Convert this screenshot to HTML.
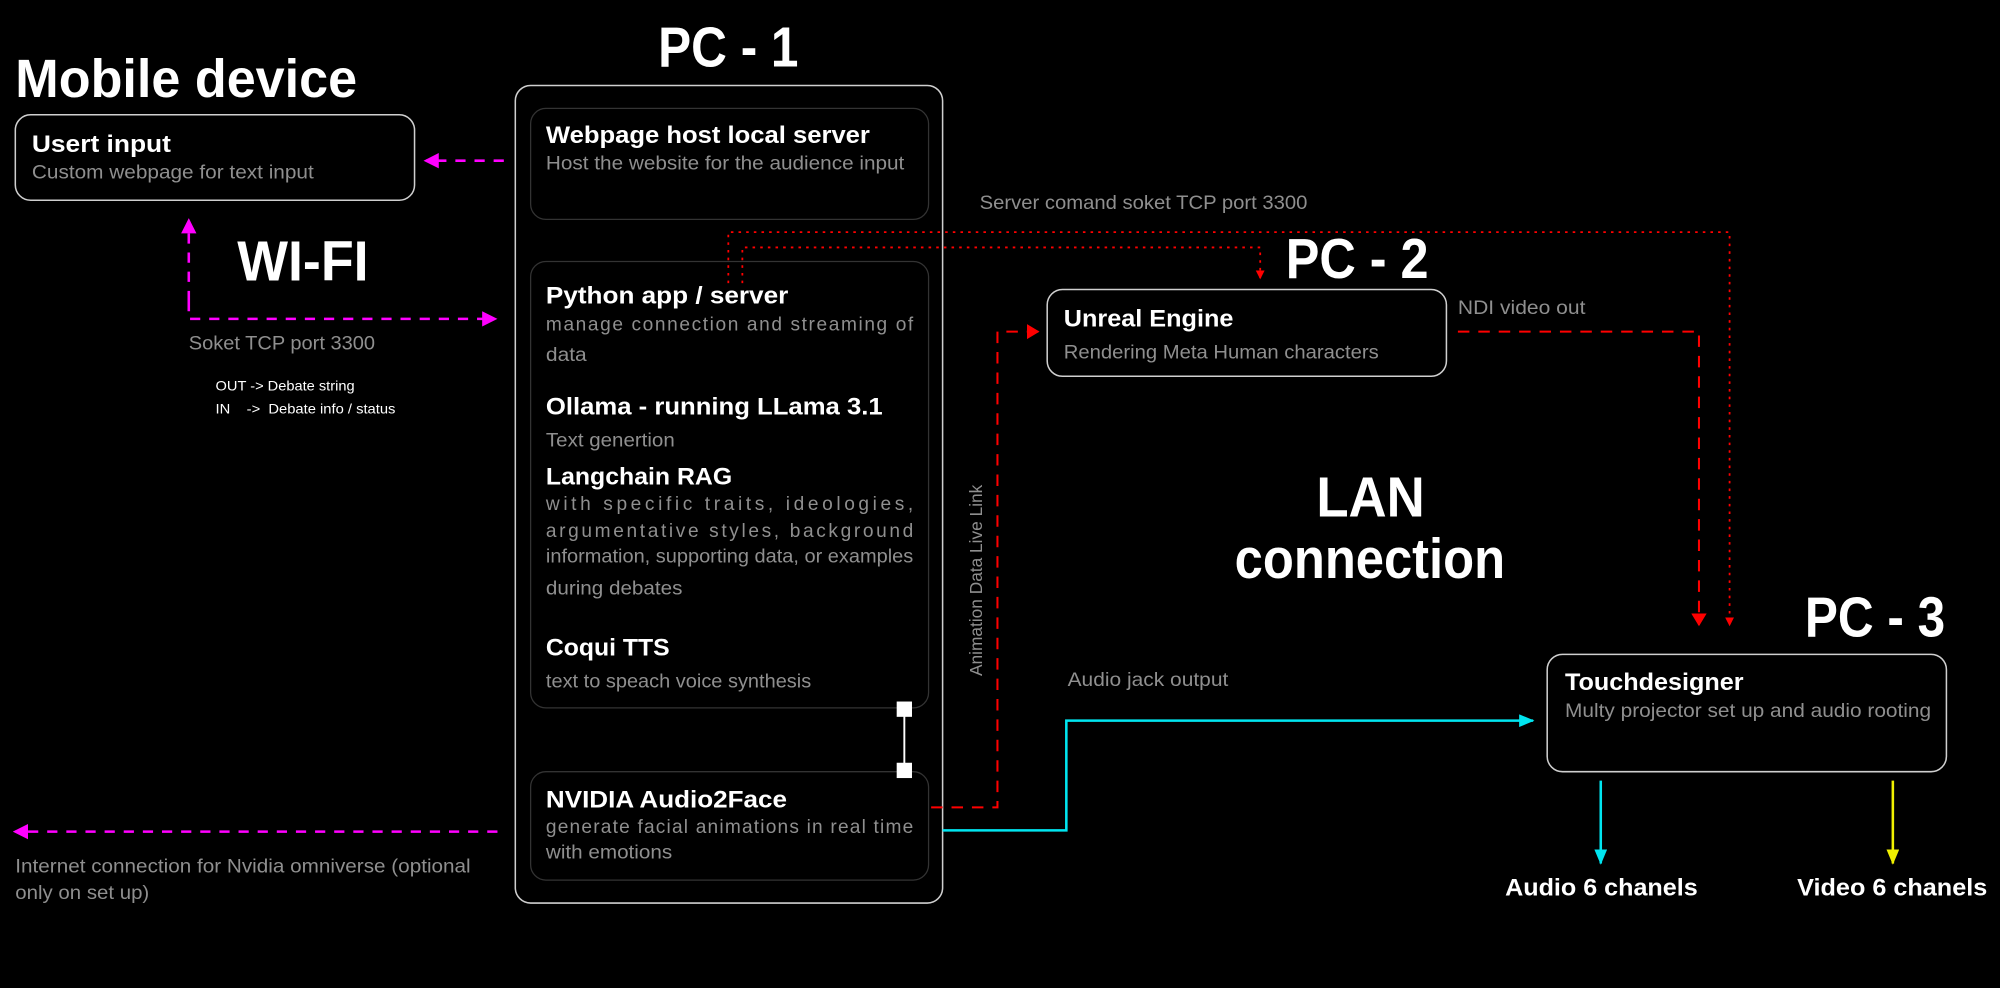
<!DOCTYPE html>
<html><head><meta charset="utf-8"><style>
html,body{margin:0;padding:0;background:#000;}
svg{display:block;}
.b{font-family:"Liberation Sans",sans-serif;font-weight:bold;fill:#fff;}
.l{font-family:"Liberation Sans",sans-serif;fill:#8f8f8f;}
</style></head><body>
<svg width="2000" height="988" viewBox="0 0 1568 774.6" xmlns="http://www.w3.org/2000/svg">
<rect x="0" y="0" width="1568" height="775" fill="#000"/>
<defs>
<marker id="am" markerWidth="12" markerHeight="12" refX="10" refY="6" orient="auto" markerUnits="userSpaceOnUse"><path d="M0,0 L12,6 L0,12 z" fill="#ff00ff"/></marker>
<marker id="ar" markerWidth="10" markerHeight="12" refX="9" refY="6" orient="auto" markerUnits="userSpaceOnUse"><path d="M0,0 L10,6 L0,12 z" fill="#ff0000"/></marker>
<marker id="ars" markerWidth="7" markerHeight="7" refX="6" refY="3.5" orient="auto" markerUnits="userSpaceOnUse"><path d="M0,0 L7,3.5 L0,7 z" fill="#ff0000"/></marker>
<marker id="ac" markerWidth="12" markerHeight="10" refX="11" refY="5" orient="auto" markerUnits="userSpaceOnUse"><path d="M0,0 L12,5 L0,10 z" fill="#00e5f0"/></marker>
<marker id="ay" markerWidth="12" markerHeight="10" refX="11" refY="5" orient="auto" markerUnits="userSpaceOnUse"><path d="M0,0 L12,5 L0,10 z" fill="#f0f000"/></marker>
</defs>

<text class="b" x="12" y="76" font-size="42" textLength="268" lengthAdjust="spacingAndGlyphs">Mobile device</text>
<text class="b" x="516" y="52" font-size="44" textLength="110" lengthAdjust="spacingAndGlyphs">PC - 1</text>
<text class="b" x="1008" y="218" font-size="44" textLength="112" lengthAdjust="spacingAndGlyphs">PC - 2</text>
<text class="b" x="1415" y="499" font-size="44" textLength="110" lengthAdjust="spacingAndGlyphs">PC - 3</text>
<text class="b" x="186" y="220" font-size="44" textLength="103" lengthAdjust="spacingAndGlyphs">WI-FI</text>
<text class="b" x="1032" y="405" font-size="44" textLength="85" lengthAdjust="spacingAndGlyphs">LAN</text>
<text class="b" x="968" y="453" font-size="44" textLength="212" lengthAdjust="spacingAndGlyphs">connection</text>

<rect x="12" y="90" width="313" height="67" rx="12" fill="none" stroke="#cfcfcf" stroke-width="1.2"/>
<text class="b" x="25" y="119" font-size="19" textLength="109" lengthAdjust="spacingAndGlyphs">Usert input</text>
<text class="l" x="25" y="140" font-size="15" textLength="221" lengthAdjust="spacingAndGlyphs">Custom webpage for text input</text>

<rect x="404" y="67" width="335" height="641" rx="12" fill="none" stroke="#cfcfcf" stroke-width="1.2"/>
<rect x="416" y="85" width="312" height="87" rx="12" fill="none" stroke="#333" stroke-width="1"/>
<rect x="416" y="205" width="312" height="350" rx="12" fill="none" stroke="#333" stroke-width="1"/>
<rect x="416" y="605" width="312" height="85" rx="12" fill="none" stroke="#333" stroke-width="1"/>

<text class="b" x="428" y="112" font-size="19" textLength="254" lengthAdjust="spacingAndGlyphs">Webpage host local server</text>
<text class="l" x="428" y="133" font-size="15" textLength="281" lengthAdjust="spacingAndGlyphs">Host the website for the audience input</text>

<text class="b" x="428" y="238" font-size="19" textLength="190" lengthAdjust="spacingAndGlyphs">Python app / server</text>
<text class="l" x="428" y="259" font-size="15" textLength="288" lengthAdjust="spacing">manage connection and streaming of</text>
<text class="l" x="428" y="283" font-size="15" textLength="32" lengthAdjust="spacingAndGlyphs">data</text>
<text class="b" x="428" y="325" font-size="19" textLength="264" lengthAdjust="spacingAndGlyphs">Ollama - running LLama 3.1</text>
<text class="l" x="428" y="350" font-size="15" textLength="101" lengthAdjust="spacingAndGlyphs">Text genertion</text>
<text class="b" x="428" y="380" font-size="19" textLength="146" lengthAdjust="spacingAndGlyphs">Langchain RAG</text>
<text class="l" x="428" y="400" font-size="15" textLength="288" lengthAdjust="spacing">with specific traits, ideologies,</text>
<text class="l" x="428" y="421" font-size="15" textLength="288" lengthAdjust="spacing">argumentative styles, background</text>
<text class="l" x="428" y="441" font-size="15" textLength="288" lengthAdjust="spacingAndGlyphs">information, supporting data, or examples</text>
<text class="l" x="428" y="466" font-size="15" textLength="107" lengthAdjust="spacingAndGlyphs">during debates</text>
<text class="b" x="428" y="514" font-size="19" textLength="97" lengthAdjust="spacingAndGlyphs">Coqui TTS</text>
<text class="l" x="428" y="539" font-size="15" textLength="208" lengthAdjust="spacingAndGlyphs">text to speach voice synthesis</text>

<line x1="709" y1="556" x2="709" y2="604" stroke="#fff" stroke-width="1.5"/>
<rect x="703" y="550" width="12" height="12" fill="#fff"/>
<rect x="703" y="598" width="12" height="12" fill="#fff"/>

<text class="b" x="428" y="633" font-size="19" textLength="189" lengthAdjust="spacingAndGlyphs">NVIDIA Audio2Face</text>
<text class="l" x="428" y="653" font-size="15" textLength="288" lengthAdjust="spacing">generate facial animations in real time</text>
<text class="l" x="428" y="673" font-size="15" textLength="99" lengthAdjust="spacingAndGlyphs">with emotions</text>

<line x1="395" y1="126" x2="334" y2="126" stroke="#ff00ff" stroke-width="2" stroke-dasharray="8,7" marker-end="url(#am)"/>
<polyline points="148,236 148,250 388,250" fill="none" stroke="#ff00ff" stroke-width="2" stroke-dasharray="8,7" marker-end="url(#am)"/>
<line x1="148" y1="236" x2="148" y2="173" stroke="#ff00ff" stroke-width="2" stroke-dasharray="8,7" marker-end="url(#am)"/>
<line x1="390" y1="652" x2="12" y2="652" stroke="#ff00ff" stroke-width="2" stroke-dasharray="8,7" marker-end="url(#am)"/>

<text class="l" x="148" y="274" font-size="15" textLength="146" lengthAdjust="spacingAndGlyphs">Soket TCP port 3300</text>
<text class="b" x="169" y="306" font-size="11" style="font-weight:normal" fill="#fff" textLength="109" lengthAdjust="spacingAndGlyphs">OUT -&gt; Debate string</text>
<text class="b" x="169" y="324" font-size="11" style="font-weight:normal;white-space:pre" fill="#fff" textLength="141" lengthAdjust="spacingAndGlyphs">IN    -&gt;  Debate info / status</text>
<text class="l" x="12" y="684" font-size="15" textLength="357" lengthAdjust="spacingAndGlyphs">Internet connection for Nvidia omniverse (optional</text>
<text class="l" x="12" y="705" font-size="15" textLength="105" lengthAdjust="spacingAndGlyphs">only on set up)</text>

<text class="l" x="768" y="164" font-size="15" textLength="257" lengthAdjust="spacingAndGlyphs">Server comand soket TCP port 3300</text>
<polyline points="571,222 571,182 1356,182 1356,490" fill="none" stroke="#ff0000" stroke-width="1.4" stroke-dasharray="2,4" marker-end="url(#ars)"/>
<polyline points="582,222 582,194 988,194 988,218" fill="none" stroke="#ff0000" stroke-width="1.4" stroke-dasharray="2,4" marker-end="url(#ars)"/>

<polyline points="730,633 782,633 782,260 814,260" fill="none" stroke="#ff0000" stroke-width="1.6" stroke-dasharray="9,7" marker-end="url(#ar)"/>
<text class="l" transform="translate(770,530) rotate(-90)" x="0" y="0" font-size="14" textLength="150" lengthAdjust="spacingAndGlyphs">Animation Data Live Link</text>

<rect x="821" y="227" width="313" height="68" rx="12" fill="none" stroke="#cfcfcf" stroke-width="1.2"/>
<text class="b" x="834" y="256" font-size="19" textLength="133" lengthAdjust="spacingAndGlyphs">Unreal Engine</text>
<text class="l" x="834" y="281" font-size="15" textLength="247" lengthAdjust="spacingAndGlyphs">Rendering Meta Human characters</text>
<text class="l" x="1143" y="246" font-size="15" textLength="100" lengthAdjust="spacingAndGlyphs">NDI video out</text>
<polyline points="1143,260 1332,260 1332,490" fill="none" stroke="#ff0000" stroke-width="1.6" stroke-dasharray="9,7" marker-end="url(#ar)"/>

<rect x="1213" y="513" width="313" height="92" rx="12" fill="none" stroke="#cfcfcf" stroke-width="1.2"/>
<text class="b" x="1227" y="541" font-size="19" textLength="140" lengthAdjust="spacingAndGlyphs">Touchdesigner</text>
<text class="l" x="1227" y="562" font-size="15" textLength="287" lengthAdjust="spacingAndGlyphs">Multy projector set up and audio rooting</text>

<text class="l" x="837" y="538" font-size="15" textLength="126" lengthAdjust="spacingAndGlyphs">Audio jack output</text>
<polyline points="739,651 836,651 836,565 1202,565" fill="none" stroke="#00e5f0" stroke-width="2" marker-end="url(#ac)"/>
<line x1="1255" y1="612" x2="1255" y2="677" stroke="#00e5f0" stroke-width="2" marker-end="url(#ac)"/>
<line x1="1484" y1="612" x2="1484" y2="677" stroke="#f0f000" stroke-width="2" marker-end="url(#ay)"/>
<text class="b" x="1180" y="702" font-size="19" textLength="151" lengthAdjust="spacingAndGlyphs">Audio 6 chanels</text>
<text class="b" x="1409" y="702" font-size="19" textLength="149" lengthAdjust="spacingAndGlyphs">Video 6 chanels</text>
</svg>
</body></html>
